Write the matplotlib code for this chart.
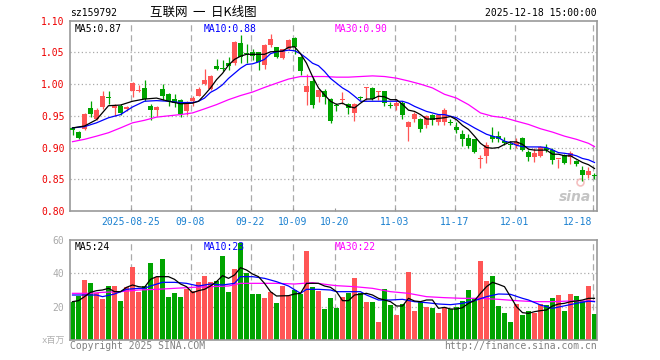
import numpy as np
import matplotlib
matplotlib.use("Agg")
import matplotlib.pyplot as plt

plt.rcParams['font.family'] = ['DejaVu Sans Mono', 'Noto Sans CJK SC']

W, H = 660, 360
RED = '#ff5555'
GREEN = '#00a400'
GRID = '#aaaaaa'
FRAME = '#999999'

# daily candles, 2025-08-11 .. 2025-12-18
opens = [0.931, 0.924, 0.9296, 0.963, 0.945, 0.964, 0.979, 0.962, 0.966, 0.961,
         0.9885, 0.989, 0.9938, 0.966, 0.960, 0.992, 0.985, 0.9765, 0.975, 0.957,
         0.9735, 0.982, 1.0005, 0.9927, 1.0286, 1.0245, 1.033, 1.033, 1.065, 1.0484,
         1.050, 1.050, 1.030, 1.0615, 1.058, 1.0406, 1.056, 1.0734, 1.043, 0.9875,
         1.005, 0.9802, 0.9896, 0.977, 0.966, 0.9755, 0.968, 0.955, 0.979, 0.9935,
         0.9943, 0.988, 0.9896, 0.9667, 0.9656, 0.970, 0.932, 0.9448, 0.9448, 0.9354,
         0.952, 0.940, 0.940, 0.9396, 0.9323, 0.9208, 0.9145, 0.913, 0.8826, 0.886,
         0.918, 0.918, 0.910, 0.905, 0.904, 0.915, 0.8935, 0.885, 0.886, 0.8995,
         0.8967, 0.8816, 0.8884, 0.8852, 0.879, 0.865, 0.8565, 0.8555]
highs = [0.9328, 0.926, 0.9547, 0.974, 0.962, 0.9885, 0.9885, 0.968, 0.968, 0.966,
         1.004, 0.999, 1.007, 0.968, 0.966, 1.0005, 0.986, 0.985, 0.976, 0.973,
         0.982, 0.996, 1.0234, 1.0146, 1.039, 1.038, 1.043, 1.0677, 1.077, 1.064,
         1.056, 1.051, 1.0625, 1.0787, 1.059, 1.056, 1.071, 1.075, 1.044, 1.0167,
         1.012, 0.992, 0.992, 0.978, 0.9698, 0.9875, 0.970, 0.970, 0.982, 0.9948,
         0.995, 0.989, 0.9897, 0.972, 0.976, 0.973, 0.9412, 0.956, 0.9468, 0.9511,
         0.953, 0.952, 0.962, 0.945, 0.940, 0.928, 0.9208, 0.914, 0.8883, 0.9094,
         0.932, 0.926, 0.9172, 0.910, 0.9156, 0.917, 0.896, 0.8988, 0.9026, 0.905,
         0.899, 0.8826, 0.890, 0.895, 0.8805, 0.871, 0.869, 0.8602]
lows = [0.920, 0.913, 0.927, 0.948, 0.944, 0.961, 0.968, 0.949, 0.952, 0.958,
        0.979, 0.987, 0.973, 0.944, 0.949, 0.975, 0.965, 0.964, 0.948, 0.952,
        0.965, 0.981, 0.9994, 0.9911, 1.022, 1.020, 1.022, 1.030, 1.033, 1.033,
        1.038, 1.022, 1.0235, 1.059, 1.0406, 1.039, 1.0536, 1.047, 1.0146, 0.9677,
        0.9625, 0.972, 0.969, 0.9395, 0.958, 0.969, 0.9536, 0.942, 0.9745, 0.975,
        0.975, 0.975, 0.966, 0.9625, 0.9594, 0.9453, 0.911, 0.9396, 0.925, 0.931,
        0.936, 0.936, 0.936, 0.935, 0.9234, 0.9026, 0.900, 0.892, 0.8675, 0.8758,
        0.9094, 0.9094, 0.9036, 0.8983, 0.900, 0.894, 0.879, 0.878, 0.8846, 0.8935,
        0.8743, 0.868, 0.874, 0.874, 0.8713, 0.848, 0.8513, 0.850]
closes = [0.927, 0.9145, 0.9536, 0.9536, 0.960, 0.982, 0.978, 0.966, 0.954, 0.964,
          1.0015, 0.9895, 0.9765, 0.960, 0.964, 0.981, 0.974, 0.970, 0.9536, 0.970,
          0.9787, 0.9922, 1.0068, 1.013, 1.0245, 1.024, 1.0286, 1.0667, 1.042, 1.047,
          1.045, 1.035, 1.0615, 1.071, 1.043, 1.0547, 1.0703, 1.058, 1.021, 0.997,
          0.9677, 0.9906, 0.9792, 0.942, 0.965, 0.977, 0.963, 0.969, 0.978, 0.9945,
          0.977, 0.9885, 0.970, 0.966, 0.971, 0.952, 0.940, 0.9536, 0.929, 0.9495,
          0.944, 0.951, 0.959, 0.939, 0.927, 0.914, 0.9026, 0.8935, 0.8832, 0.9036,
          0.914, 0.914, 0.907, 0.9047, 0.909, 0.896, 0.885, 0.8915, 0.901, 0.8967,
          0.8811, 0.8822, 0.876, 0.8915, 0.874, 0.857, 0.8638, 0.855]
# volume, millions of shares
volumes = [23, 26.6, 36, 34.4, 28.4, 24.6, 32.4, 32.4, 23.4, 32,
           44, 29, 32.4, 46.4, 37.6, 48.6, 25.8, 28.4, 26, 30.6,
           29.6, 34.8, 38.6, 34.8, 35.4, 50.6, 29, 42.8, 58.4, 40.4,
           27.8, 27.8, 25.4, 29, 22.4, 32.4, 26.6, 30, 27.8, 53.6,
           31.8, 29.4, 18.8, 25.4, 19.4, 26, 28.4, 37.4, 28.4, 23,
           23, 11, 30.4, 21, 15, 21.6, 41, 17.6, 23, 20,
           19.4, 16.4, 19.4, 18.8, 20, 23.4, 30, 25.4, 47.4, 35.4,
           38.4, 20.4, 16.2, 10.8, 21.8, 15, 17.4, 16, 21.4, 21,
           25.2, 27, 17.4, 27.6, 26.4, 23.4, 32.4, 15.8]

# moving average lines (index, value)
ma5_x = [0, 2, 4, 5, 6, 8, 10, 12, 14, 16, 18, 20, 21, 22, 23, 24, 25, 26, 27, 28,
         29, 31, 32, 33, 35, 36, 37, 38, 39, 40, 41, 42, 43, 44, 45, 46, 47, 48, 49, 50,
         51, 52, 53, 54, 55, 56, 57, 58, 59, 60, 61, 62, 63, 64, 65, 66, 67, 68, 69, 70,
         71, 72, 73, 74, 75, 76, 77, 78, 79, 80, 81, 82, 83, 84, 85, 86, 87]
ma5 = [0.931, 0.934, 0.944, 0.955, 0.966, 0.967, 0.973, 0.9765, 0.978, 0.973,
       0.969, 0.970, 0.973, 0.983, 0.994, 1.007, 1.017, 1.030, 1.039, 1.044,
       1.047, 1.047, 1.047, 1.051, 1.052, 1.058, 1.059, 1.048, 1.033, 1.012,
       0.994, 0.983, 0.973, 0.968, 0.970, 0.965, 0.9625, 0.970, 0.9765, 0.9765,
       0.981, 0.980, 0.9755, 0.9755, 0.968, 0.959, 0.957, 0.952, 0.945, 0.945,
       0.946, 0.947, 0.949, 0.944, 0.935, 0.9286, 0.918, 0.9067, 0.900, 0.899,
       0.900, 0.905, 0.909, 0.909, 0.905, 0.8974, 0.896, 0.896, 0.896, 0.8895,
       0.8895, 0.887, 0.887, 0.8817, 0.8765, 0.873, 0.867]
ma10_x = [0, 2, 4, 6, 8, 10, 12, 14, 16, 18, 20, 21, 22, 23, 24, 25, 26, 27, 28, 29,
          30, 31, 32, 33, 34, 35, 36, 37, 38, 39, 40, 41, 42, 43, 44, 45, 46, 47, 48, 50,
          52, 55, 56, 57, 58, 59, 60, 61, 62, 63, 64, 65, 66, 67, 68, 69, 70, 71, 72, 73,
          74, 75, 76, 78, 79, 80, 81, 82, 83, 84, 85, 86, 87]
ma10 = [0.931, 0.933, 0.939, 0.947, 0.952, 0.964, 0.973, 0.974, 0.973, 0.971,
        0.971, 0.973, 0.978, 0.987, 0.992, 0.999, 1.009, 1.017, 1.025, 1.031,
        1.032, 1.035, 1.039, 1.048, 1.051, 1.052, 1.0536, 1.0526, 1.048, 1.041,
        1.033, 1.029, 1.020, 1.009, 1.0015, 0.994, 0.9885, 0.981, 0.973, 0.973,
        0.973, 0.973, 0.970, 0.965, 0.961, 0.957, 0.9546, 0.952, 0.952, 0.9494,
        0.947, 0.9416, 0.9365, 0.931, 0.926, 0.921, 0.918, 0.9156, 0.910, 0.9078,
        0.9036, 0.9015, 0.901, 0.901, 0.900, 0.8963, 0.892, 0.891, 0.8895, 0.887,
        0.8828, 0.8807, 0.8765]
ma30_x = [0, 2, 4, 6, 8, 10, 12, 14, 16, 18, 20, 22, 24, 26, 28, 30, 32, 34, 36, 38,
          40, 42, 44, 46, 48, 50, 52, 54, 56, 58, 60, 62, 64, 66, 68, 70, 72, 74, 76, 78,
          80, 82, 84, 86, 87]
ma30 = [0.9093, 0.913, 0.918, 0.9234, 0.931, 0.939, 0.943, 0.948, 0.950, 0.952,
        0.9546, 0.961, 0.9677, 0.9755, 0.982, 0.9875, 0.9948, 1.0015, 1.008, 1.012,
        1.012, 1.012, 1.011, 1.011, 1.012, 1.013, 1.012, 1.0094, 1.005, 1.000,
        0.994, 0.984, 0.978, 0.9677, 0.9546, 0.9494, 0.947, 0.9416, 0.9365, 0.9297,
        0.9244, 0.918, 0.913, 0.9067, 0.9015]

vma5_x = [0, 1, 2, 3, 4, 5, 6, 7, 8, 9, 10, 11, 12, 13, 14, 16, 17, 18, 19, 20,
          21, 22, 23, 24, 25, 26, 27, 28, 29, 30, 31, 32, 33, 34, 36, 37, 38, 39, 41, 42,
          43, 44, 45, 46, 47, 49, 50, 51, 52, 53, 54, 55, 56, 57, 58, 59, 60, 61, 62, 63,
          64, 65, 66, 67, 68, 69, 70, 71, 72, 73, 74, 75, 76, 77, 78, 79, 80, 81, 82, 83,
          84, 85, 86, 87]
vma5 = [23, 23.6, 26, 28.6, 29.6, 30, 31, 29, 29, 31.6, 33, 32, 31.6, 36.4, 38, 38,
        36.4, 33.6, 32, 28.4, 29.6, 30.4, 32.4, 35, 38.6, 37, 39, 43.4, 42, 39.6,
        38, 34, 29, 26.4, 26.6, 27.6, 28, 34, 34, 32.4, 31.6, 29, 23.6, 23.6, 27,
        28, 27, 25, 24, 23, 20.4, 20.4, 25, 23.4, 23, 24, 24, 19, 19.6, 18.6,
        18.6, 19.4, 22, 23.6, 28, 32, 34.6, 33.4, 32, 26, 20, 16.4, 16, 17, 17.6,
        18, 20.4, 21.6, 22, 23, 23.4, 24, 25, 25]
vma10_x = [0, 2, 4, 5, 7, 9, 11, 12, 13, 15, 17, 19, 21, 23, 25, 27, 28, 30, 32, 34,
           36, 38, 39, 41, 43, 44, 46, 48, 49, 51, 53, 55, 57, 59, 61, 63, 65, 67, 69, 71,
           73, 75, 76, 78, 80, 82, 84, 86, 87]
vma10 = [27, 27, 27, 26, 27.6, 30.4, 31, 31, 32.4, 34.6, 34.6, 34, 32.4, 33.6, 33,
         34, 38, 38, 37, 35, 32.4, 28, 30.4, 30.4, 30, 29, 29, 29, 27, 24, 24, 24.4,
         23, 22.4, 21.6, 21.2, 22, 23.6, 26, 27.6, 27.4, 25, 24, 21, 19, 20.5, 22,
         23.3, 23]
vma30_x = [0, 3, 5, 8, 11, 14, 17, 20, 23, 26, 28, 31, 34, 37, 40, 43, 44, 47, 50, 53,
           56, 59, 62, 65, 68, 71, 74, 77, 80, 83, 86, 87]
vma30 = [28, 28, 28.6, 29, 30, 30.4, 31, 31.6, 32, 32.4, 34, 34, 34, 33.6, 34.4, 33,
         32.6, 32, 31, 29, 28, 26, 25.4, 25, 25, 24.4, 23.6, 23, 23, 23.4, 23.4, 23.2]

date_labels = ['2025-08-25', '09-08', '09-22', '10-09', '10-20', '11-03', '11-17', '12-01', '12-18']
date_idx = [10, 20, 30, 37, 44, 54, 64, 74, 87]
price_ticks = [0.80, 0.85, 0.90, 0.95, 1.00, 1.05, 1.10]
vol_ticks = [20, 40, 60]


def fx(px):
    return px / W


def fy(py):
    return 1 - py / H


fig = plt.figure(figsize=(6.6, 3.6), dpi=100)
ax = fig.add_axes([fx(70), fy(211), 527 / W, (211 - 20.7) / H])
axv = fig.add_axes([fx(70), fy(340), 527 / W, 100 / H])

idx = np.arange(len(closes))
o = np.array(opens)
c = np.array(closes)
cols = np.where(c >= o, RED, GREEN)
grid_x = [d - 0.33 for d in date_idx]

for a in (ax, axv):
    a.set_xlim(-0.42, 87.42)
    for s in a.spines.values():
        s.set_color(FRAME)
        s.set_linewidth(1.2)

# --- price panel ---
ax.set_ylim(0.80, 1.10)
for lab, gx in zip(date_labels, grid_x):
    if lab == '10-20':
        continue
    ax.axvline(gx, color=GRID, lw=0.9, ls=(0, (5, 3)), zorder=0)
for t in price_ticks[1:-1]:
    ax.axhline(t, color=GRID, lw=0.9, ls=(0, (1, 2)), zorder=0)

ax.vlines(idx, lows, highs, colors=cols, lw=0.9, zorder=2)
ax.bar(idx, np.maximum(np.abs(c - o), 0.0017), bottom=np.minimum(o, c),
       width=0.83, color=cols, lw=0, zorder=3)
ax.plot(ma30_x, ma30, color='#ff00ff', lw=0.9, zorder=4)
ax.plot(ma10_x, ma10, color='#0000ff', lw=0.9, zorder=4)
ax.plot(ma5_x, ma5, color='black', lw=0.9, zorder=5)

ax.set_yticks(price_ticks)
ax.set_yticklabels([f'{t:.2f}' for t in price_ticks])
ax.tick_params(axis='y', length=0, pad=4, labelsize=7, labelcolor='#ee0000')
ax.set_xticks(grid_x)
ax.set_xticklabels(date_labels)
ax.tick_params(axis='x', direction='in', length=2.5, color=FRAME, pad=4,
               labelsize=7, labelcolor='#1a80d0')
xt = ax.get_xticklabels()
xt[-1].set_horizontalalignment('right')

ax.text(0.0095, 0.985, 'MA5:0.87', transform=ax.transAxes, fontsize=7,
        color='black', va='top', ha='left', zorder=6)
ax.text(0.2543, 0.985, 'MA10:0.88', transform=ax.transAxes, fontsize=7,
        color='#0000ff', va='top', ha='left', zorder=6)
ax.text(0.5023, 0.985, 'MA30:0.90', transform=ax.transAxes, fontsize=7,
        color='#ff00ff', va='top', ha='left', zorder=6)
ax.text(0.958, 0.075, 'sina', transform=ax.transAxes, fontsize=10,
        fontstyle='italic', fontweight='bold', color='#c4c4c4',
        family='DejaVu Sans', ha='center', va='center', zorder=1)
ax.plot([0.968], [0.15], 'o', transform=ax.transAxes, ms=5,
        mfc='none', mec='#f4c0c0', mew=1.2, zorder=1)

# --- volume panel ---
axv.set_ylim(0, 60)
for gx in grid_x:
    axv.axvline(gx, color=GRID, lw=0.9, ls=(0, (5, 3)), zorder=0)
for t in vol_ticks[:-1]:
    axv.axhline(t, color=GRID, lw=0.9, ls=(0, (1, 2)), zorder=0)
axv.bar(idx, volumes, width=0.83, color=cols, lw=0, zorder=2)
axv.plot(vma30_x, vma30, color='#ff00ff', lw=0.9, zorder=4)
axv.plot(vma10_x, vma10, color='#0000ff', lw=0.9, zorder=4)
axv.plot(vma5_x, vma5, color='black', lw=0.9, zorder=5)
axv.set_yticks(vol_ticks)
axv.set_yticklabels([str(t) for t in vol_ticks])
axv.tick_params(axis='y', length=0, pad=4, labelsize=7, labelcolor='#aaaaaa')
axv.set_xticks([])
axv.text(0.0095, 0.975, 'MA5:24', transform=axv.transAxes, fontsize=7,
         color='black', va='top', ha='left', zorder=6)
axv.text(0.2543, 0.975, 'MA10:23', transform=axv.transAxes, fontsize=7,
         color='#0000ff', va='top', ha='left', zorder=6)
axv.text(0.5023, 0.975, 'MA30:22', transform=axv.transAxes, fontsize=7,
         color='#ff00ff', va='top', ha='left', zorder=6)

# --- header / footer texts ---
fig.text(fx(70), fy(12.5), 'sz159792', fontsize=7, color='black', va='center', ha='left')
fig.text(fx(150), fy(12), '互联网  一  日K线图', fontsize=9, color='black',
         va='center', ha='left', family=['Noto Sans CJK SC'])
fig.text(fx(597), fy(12.5), '2025-12-18 15:00:00', fontsize=7, color='black',
         va='center', ha='right')
fig.text(fx(65.5), fy(340.5), 'x百万', fontsize=6.5, color='#b0b0b0',
         va='center', ha='right')
fig.text(fx(70), fy(346), 'Copyright 2025 SINA.COM', fontsize=7, color='#808080',
         va='center', ha='left')
fig.text(fx(597), fy(346), 'http://finance.sina.com.cn', fontsize=7, color='#808080',
         va='center', ha='right')

fig.savefig('out.png', dpi=100)
